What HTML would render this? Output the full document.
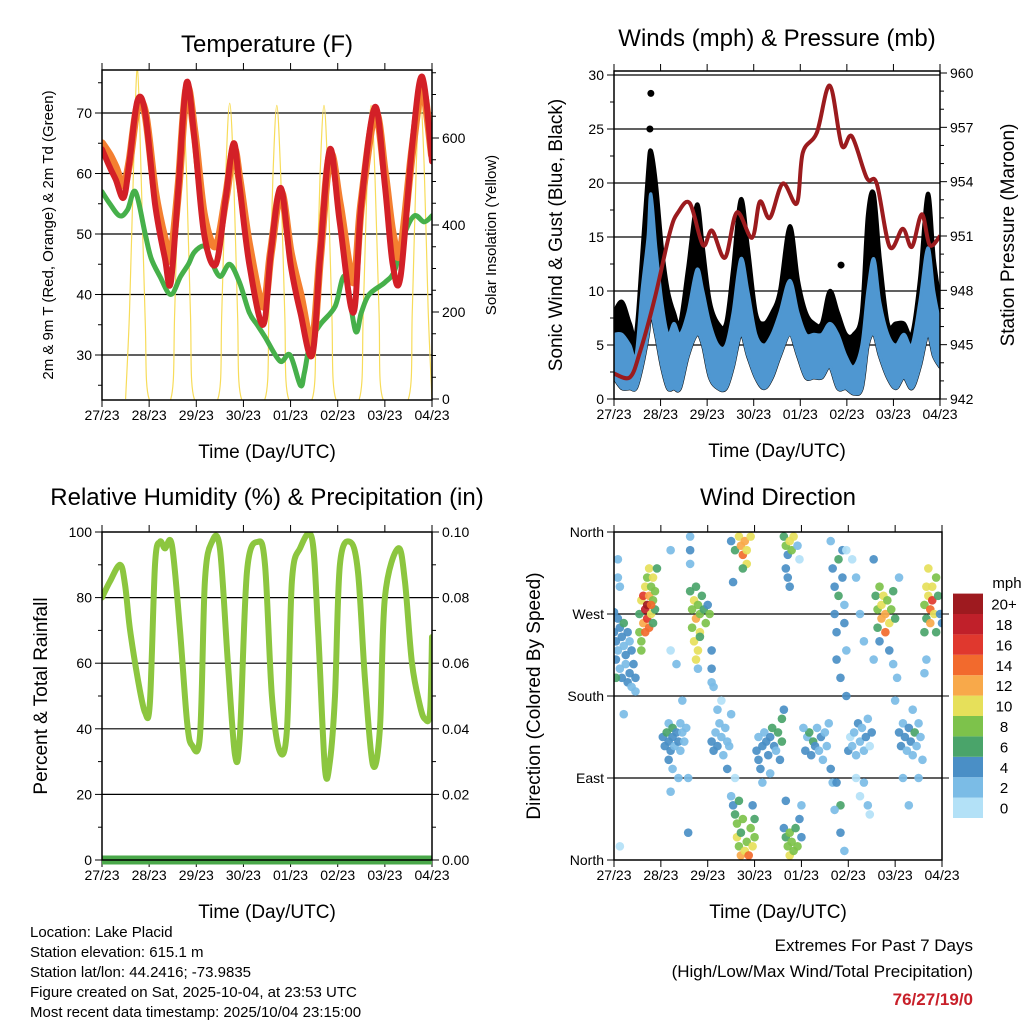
<!DOCTYPE html>
<html><head><meta charset="utf-8"><style>
html,body{margin:0;padding:0;background:#fff;}
svg{display:block;font-family:"Liberation Sans",Arial,sans-serif;}
</style></head><body>
<svg id="fig" width="1024" height="1024" viewBox="0 0 1024 1024" xmlns="http://www.w3.org/2000/svg"></svg>
<script>
// ---------- Data ----------
const dayLabels = ["27/23","28/23","29/23","30/23","01/23","02/23","03/23","04/23"];
const redT = [0,4,7,11,14,18,22,27,32,35,39,43,47,52,58,63,67,70,75,82,86,91,96,101,107,111,116,121,128,132,139,144,148,152,158,163,168];
const redV = [64,61,59,56,62,72,70,55,46,42,58,75,66,50,45,56,65,58,45,35,47,57.6,45,37,30,46,64,52,37,55,71,58,45,43,65,76,62];
const orangeV = [65,63,61,58,62,71,70,57,49,46,58,74,67,53,48,56,64,59,48,38,47,57,47,40,32,46,63,55,42,55,70,60,50,47,64,74,63];
const dewT = [0,4,9,13,17,22,25,29.5,35,40,44,47,52,55,60,65,70,75,79,83,90.6,95.7,101,103,106,111,118.6,123.7,129,132,136,144,149,154,159,164,168];
const dewV = [57,55,53,54,57,50,46,43,40,43,45,47,48,46,43,45,42,37,35,33,29,30,25,27,32,35,38,43,34,37,40,42,44,50,53,52,53];
const solarT = [12,14,16,18,20,22,24, 35,37,39,41,43,45,47, 59,61,63,65,67,69,71, 83,85,87,89,91,93,95, 107,109,111,113,115,117,119, 131,133,135,137,139,141,143, 156,158,160,162,164,166,168];
const solarV = [0,200,520,760,500,180,0, 0,200,520,680,520,200,0, 0,200,520,680,520,200,0, 0,200,510,675,510,200,0, 0,200,510,675,510,200,0, 0,200,510,675,510,200,0, 0,210,540,690,540,210,0];

const windT = [0,4.1,8.2,11.3,14.4,17.5,19,21.6,24.7,27.8,30.9,34,38.1,42.7,45.8,49.4,53.6,57.7,61.3,65.4,69,73.1,77.3,81.4,85.5,90.6,94.8,98.9,103,107.1,111.2,115.4,119.5,123.6,127.7,130.8,133.9,137,141.1,145.2,149.4,153.5,157.6,161.7,164.8,168];
const windLo = [2,1,1,1,3,6,8,6,3,1,1,1,4,6,5,2,1,1,3,6,4,2,1,2,4,6,4,2,2,2,3,1,1,0.5,1,5,6,4,2,1,2,1,3,6,4,3];
const windHi = [6,6,5,4,10,15,19,14,9,6,7,6,8,12,10,7,5,5,8,13,10,6,5,6,8,11,8,6,6,6,7,6,4,3,5,10,13,9,6,5,6,5,9,14,10,7];
const gustHi = [8,9,7,6,13,21,23,20,14,10,8,7,12,18,14,9,7,7,12,18.5,14,8,7,8,10,16,11,8,7,7,10,8,6,6,8,17,19,13,7,7,7,6,11,19,13,9];
const gustOutT = [19,18.5,117];
const gustOutV = [28.3,25,12.4];
const presT = [0,8.2,13.4,21.1,28.8,33,39.1,45.8,50.5,57.2,63.3,71.1,75.2,80.3,87,94.2,97.3,104.5,111.2,117.4,122.6,130.3,135.4,142.1,148.8,153.5,158.6,162.7,168];
const presV = [943.4,943.2,944.6,947.6,951.2,952.3,952.8,950.5,951.3,949.8,952.3,950.9,952.9,952,953.9,952.8,955.6,956.7,959.3,956,956.5,954.2,953.9,950.4,951.4,950.4,952.2,950.5,951];

const rhT = [0,4.1,9.2,11.7,14.3,18.3,21.9,24.4,27,29.5,32,35.6,39.7,43.3,45.8,49.9,52.4,56,60,64.1,67.7,70.2,73.8,79.4,83,86.5,90.6,94.2,96.7,100.8,106.9,110,113.5,116,118.6,121.1,126.2,130.3,133.9,137.9,141.5,144,150.7,154.2,157.8,161.9,164.4,167,168];
const rhV = [80,85,90,84,70,55,45,48,90,97,95,96,70,42,35,38,85,97,95,60,32,38,88,97,90,50,33,40,85,95,98,70,28,30,50,90,97,88,55,29,40,80,95,85,60,47,43,45,68];
const rainT = [0,168];
const rainV = [0,0];

const dirPts = [
[0,250,4],[1,240,4],[1,220,5],[2,265,4],[2,230,2],[3,255,4],[3,210,2],[4,245,4],[4,200,4],[5,235,2],[5,260,6],[6,225,4],[6,215,2],[7,250,4],[7,195,4],[8,240,2],[8,205,4],[9,230,4],[9,190,2],[10,215,4],[11,200,4],[11,185,2],[2,330,2],[2,310,2],[3,300,2],[0,272,4],[1,200,6],[5,160,2],[3,15,0],
[13,250,8],[13,270,6],[14,240,8],[14,285,10],[15,260,12],[15,290,16],[16,275,18],[16,300,10],[17,265,16],[17,280,20],[17,310,8],[18,255,14],[18,290,12],[18,320,10],[19,270,10],[19,300,8],[20,285,8],[20,260,6],[21,295,8],[21,275,6],[22,320,6],[14,230,8],[16,250,14],[19,280,14],[20,310,10],
[39,295,6],[40,275,8],[40,255,8],[41,285,10],[41,240,10],[42,265,12],[42,300,6],[43,280,8],[43,230,10],[44,270,8],[44,250,10],[45,290,6],[46,275,6],[47,260,8],[48,280,4],[49,270,8],[42,220,10],[44,245,6],
[29,340,2],[29,230,0],[32,215,2],[35,175,2],[39,325,2],[39,340,4],[39,355,2],[43,210,2],[50,230,4],[50,210,4],[51,190,2],[50,195,2],
[25,135,4],[26,125,4],[27,140,6],[28,130,4],[28,150,2],[29,120,4],[30,135,4],[30,145,6],[31,125,2],[32,140,4],[33,130,4],[34,150,2],[34,120,2],[35,140,2],[36,130,2],[37,145,2],[28,110,4],[30,100,2],[29,75,2],[33,90,2],[38,90,2],[38,30,4],
[50,130,4],[51,120,4],[52,140,2],[53,125,4],[54,150,2],[55,135,2],[56,115,2],[57,145,2],[58,130,2],[59,125,2],[60,160,2],[53,165,2],[55,175,0],[58,100,4],[62,90,0],
[60,350,4],[62,340,6],[64,355,10],[65,345,12],[66,335,14],[67,350,12],[68,340,10],[68,325,10],[70,355,10],[66,320,6],[61,305,4],
[60,70,2],[61,60,4],[62,50,6],[63,40,8],[63,25,10],[64,15,8],[65,5,12],[65,30,6],[66,45,8],[67,10,10],[68,20,8],[69,5,14],[70,35,8],[71,15,10],[72,45,6],[72,25,8],[71,60,4],[64,65,6],
[73,120,4],[74,110,4],[74,135,2],[75,100,4],[76,125,4],[77,140,2],[78,130,4],[79,115,4],[80,135,4],[81,145,6],[82,125,4],[83,120,2],[84,140,6],[85,110,4],[86,130,6],[86,155,6],[87,165,4],[76,85,2],[80,95,2],
[87,355,6],[88,345,8],[89,335,4],[90,350,10],[91,340,8],[92,355,10],[88,320,4],[90,300,4],[89,310,4],[94,345,2],[95,330,0],
[87,35,4],[88,25,6],[89,15,8],[90,5,10],[90,30,8],[91,20,8],[92,10,8],[93,35,6],[94,15,8],[95,45,4],[96,60,2],[96,25,4],[88,65,4],
[98,120,4],[99,135,2],[100,140,6],[101,115,4],[102,130,6],[103,125,4],[104,145,2],[105,120,2],[106,135,4],[107,110,2],[108,140,2],[109,125,2],[110,150,2],[97,145,2],[111,100,4],[112,85,2],
[111,350,2],[112,320,4],[113,300,4],[113,270,4],[114,250,4],[114,220,4],[115,330,6],[115,290,6],[116,200,4],[116,60,6],[117,340,4],[117,310,4],[118,280,2],[118,260,4],[119,230,2],[119,180,4],[120,120,4],[114,85,4],[116,30,4],[118,10,2],[113,55,2],[119,340,0],
[121,135,0],[122,125,2],[123,140,2],[124,115,2],[125,150,4],[126,130,2],[127,145,2],[128,120,2],[129,135,4],[130,155,2],[131,125,0],[132,140,4],[124,90,0],[126,70,0],[128,85,2],[122,330,0],[124,310,2],[126,270,2],[128,240,2],[130,60,2],[131,50,0],[133,330,4],[133,220,2],
[134,290,6],[135,275,8],[135,255,6],[136,300,8],[137,280,10],[137,265,12],[138,290,10],[139,270,12],[139,250,14],[140,285,8],[141,260,10],[142,275,8],[143,295,6],[144,265,6],[136,240,4],[141,230,4],[143,215,2],[145,200,2],[144,175,2],[146,310,2],
[146,140,4],[147,125,4],[148,150,2],[149,135,4],[150,120,2],[151,145,4],[152,130,4],[153,115,2],[154,140,6],[155,125,2],[156,150,2],[157,135,2],[158,110,2],[148,90,2],[151,60,2],[153,165,2],[156,90,2],
[159,250,6],[159,280,8],[160,300,10],[160,265,6],[161,290,10],[161,320,10],[162,275,14],[162,260,12],[163,300,10],[163,285,16],[164,270,10],[165,310,8],[165,250,6],[166,290,6],[167,270,4],[168,260,4],[160,220,2],[159,205,2]
];
const speedLabels = ["0","2","4","6","8","10","12","14","16","18","20+"];
const speedColors = ["#b3e1f7","#7bbce6","#4a8fc6","#4aa46a","#7dc24b","#e6e05a","#f8a94a","#f26a2d","#e0382e","#c0202a","#9e1a1f"];

// ---------- Helpers ----------
const NS = "http://www.w3.org/2000/svg";
const svg = document.getElementById("fig");
function mk(tag, attrs, parent, name) {
  const e = document.createElementNS(NS, tag);
  for (const k in attrs) e.setAttribute(k, attrs[k]);
  
  
  (parent || svg).appendChild(e);
  return e;
}
function txt(s, x, y, size, anchor, name, extra) {
  const t = mk("text", Object.assign({x:x, y:y, "font-size":size, "text-anchor":anchor || "middle", fill:"#000"}, extra || {}), svg, name);
  t.textContent = s;
  return t;
}
function pathFrom(xs, ys) {
  let d = "";
  for (let i = 0; i < xs.length; i++) d += (i ? "L" : "M") + xs[i].toFixed(1) + "," + ys[i].toFixed(1);
  return d;
}
function smoothFrom(xs, ys, cont) {
  let d = (cont ? "L" : "M") + xs[0].toFixed(1) + "," + ys[0].toFixed(1);
  for (let i = 0; i < xs.length - 1; i++) {
    const x0 = xs[Math.max(0, i - 1)], y0 = ys[Math.max(0, i - 1)];
    const x1 = xs[i], y1 = ys[i], x2 = xs[i + 1], y2 = ys[i + 1];
    const x3 = xs[Math.min(xs.length - 1, i + 2)], y3 = ys[Math.min(xs.length - 1, i + 2)];
    const c1x = x1 + (x2 - x0) / 6, c1y = y1 + (y2 - y0) / 6;
    const c2x = x2 - (x3 - x1) / 6, c2y = y2 - (y3 - y1) / 6;
    d += "C" + c1x.toFixed(1) + "," + c1y.toFixed(1) + " " + c2x.toFixed(1) + "," + c2y.toFixed(1) + " " + x2.toFixed(1) + "," + y2.toFixed(1);
  }
  return d;
}
function xScale(x0, x1) { return t => x0 + (t / 168) * (x1 - x0); }
function lin(v0, y0, v1, y1) { return v => y0 + (v - v0) * (y1 - y0) / (v1 - v0); }

function panel(o) {
  o.grid.forEach(v => mk("line", {x1:o.x0, x2:o.x1, y1:o.yL(v), y2:o.yL(v), stroke:"#000", "stroke-width":1.2}, svg, o.id + "-gridline"));
  o.lTicks.forEach((v, i) => {
    const y = o.yL(v);
    mk("line", {x1:o.x0 - 7, x2:o.x0, y1:y, y2:y, stroke:"#000", "stroke-width":1}, svg, o.id + "-left-tick");
    txt(o.lLabels[i], o.x0 - 10, y + 5, 14, "end", o.id + "-left-tick-label");
  });
  (o.lMinor || []).forEach(v => { const y = o.yL(v); mk("line", {x1:o.x0 - 4, x2:o.x0, y1:y, y2:y, stroke:"#000", "stroke-width":1}, svg, o.id + "-left-minor-tick"); });
  if (o.rTicks) {
    o.rTicks.forEach((v, i) => {
      const y = o.yR(v);
      mk("line", {x1:o.x1, x2:o.x1 + 7, y1:y, y2:y, stroke:"#000", "stroke-width":1}, svg, o.id + "-right-tick");
      txt(o.rLabels[i], o.x1 + 10, y + 5, 14, "start", o.id + "-right-tick-label");
    });
    (o.rMinor || []).forEach(v => { const y = o.yR(v); mk("line", {x1:o.x1, x2:o.x1 + 4, y1:y, y2:y, stroke:"#000", "stroke-width":1}, svg, o.id + "-right-minor-tick"); });
  }
  const xs = xScale(o.x0, o.x1);
  dayLabels.forEach((s, i) => {
    const x = xs(i * 24);
    mk("line", {x1:x, x2:x, y1:o.y1, y2:o.y1 + 7, stroke:"#000", "stroke-width":1}, svg, o.id + "-x-tick");
    mk("line", {x1:x, x2:x, y1:o.y0 - 7, y2:o.y0, stroke:"#000", "stroke-width":1}, svg, o.id + "-top-tick");
    txt(s, x, o.y1 + 20, 14, "middle", o.id + "-x-tick-label");
  });
  txt("Time (Day/UTC)", (o.x0 + o.x1) / 2, o.y1 + 58, 19, "middle", o.id + "-x-axis-title");
  txt(o.title, (o.x0 + o.x1) / 2, o.titleY, 24, "middle", o.id + "-title");
  const ly = (o.y0 + o.y1) / 2;
  txt(o.lTitle, o.lTitleX, ly, o.lTitleSize, "middle", o.id + "-y-axis-title", {transform:"rotate(-90 " + o.lTitleX + " " + ly + ")"});
  if (o.rTitle) txt(o.rTitle, o.rTitleX, ly, o.rTitleSize, "middle", o.id + "-right-axis-title", {transform:"rotate(-90 " + o.rTitleX + " " + ly + ")"});
  const cp = mk("clipPath", {id:o.id + "-clip"}, svg, o.id + "-clip");
  mk("rect", {x:o.x0, y:o.y0, width:o.x1 - o.x0, height:o.y1 - o.y0}, cp, o.id + "-clip-rect");
  const g = mk("g", {"clip-path":"url(#" + o.id + "-clip)"}, svg, o.id + "-plot-area");
  return {g:g, xs:xs};
}
function frame(o) {
  mk("rect", {x:o.x0, y:o.y0, width:o.x1 - o.x0, height:o.y1 - o.y0, fill:"none", stroke:"#000", "stroke-width":1.5}, svg, o.id + "-frame");
}

// ---------- Panel 1: Temperature ----------
const P1 = {id:"temp", x0:102, x1:432, y0:70, y1:400, title:"Temperature (F)", titleY:52,
  yL:lin(30,355,70,113), yR:lin(0,399,600,138),
  grid:[30,40,50,60,70], lTicks:[30,40,50,60,70], lLabels:["30","40","50","60","70"], lMinor:[25,35,45,55,65,75],
  rTicks:[0,200,400,600], rLabels:["0","200","400","600"], rMinor:[50,100,150,250,300,350,450,500,550,650,700,750],
  lTitle:"2m & 9m T (Red, Orange) & 2m Td (Green)", lTitleX:53, lTitleSize:15,
  rTitle:"Solar Insolation (Yellow)", rTitleX:496, rTitleSize:15};
{
  const r = panel(P1);
  mk("path", {d:smoothFrom(solarT.map(r.xs), solarV.map(P1.yR)), fill:"none", stroke:"#f7dc5a", "stroke-width":1.2, "stroke-linejoin":"round"}, r.g, "solar-insolation-line");
  mk("path", {d:smoothFrom(dewT.map(r.xs), dewV.map(P1.yL)), fill:"none", stroke:"#46b04a", "stroke-width":5, "stroke-linejoin":"round", "stroke-linecap":"round"}, r.g, "dewpoint-2m-line");
  mk("path", {d:smoothFrom(redT.map(r.xs), orangeV.map(P1.yL)), fill:"none", stroke:"#f47f30", "stroke-width":8, "stroke-linejoin":"round", "stroke-linecap":"round"}, r.g, "temp-9m-line");
  mk("path", {d:smoothFrom(redT.map(r.xs), redV.map(P1.yL)), fill:"none", stroke:"#d32027", "stroke-width":6, "stroke-linejoin":"round", "stroke-linecap":"round"}, r.g, "temp-2m-line");
  frame(P1);
}

// ---------- Panel 2: Winds & Pressure ----------
const P2 = {id:"wind", x0:614, x1:940, y0:71, y1:399, title:"Winds (mph) & Pressure (mb)", titleY:46,
  yL:lin(0,399,30,75), yR:lin(942,399,960,73),
  grid:[5,10,15,20,25,30], lTicks:[0,5,10,15,20,25,30], lLabels:["0","5","10","15","20","25","30"], lMinor:[2.5,7.5,12.5,17.5,22.5,27.5],
  rTicks:[942,945,948,951,954,957,960], rLabels:["942","945","948","951","954","957","960"],
  rMinor:[943,944,946,947,949,950,952,953,955,956,958,959],
  lTitle:"Sonic Wind & Gust (Blue, Black)", lTitleX:562, lTitleSize:19,
  rTitle:"Station Pressure (Maroon)", rTitleX:1014, rTitleSize:19};
{
  const r = panel(P2);
  const xs = windT.map(r.xs);
  const gTop = gustHi.map(P2.yL), bTop = windHi.map(P2.yL), bBot = windLo.map(P2.yL);
  const gd = smoothFrom(xs, gTop) + smoothFrom(xs.slice().reverse(), bBot.slice().reverse(), true) + "Z";
  mk("path", {d:gd, fill:"#000", stroke:"#000", "stroke-width":4, "stroke-linejoin":"round"}, r.g, "gust-points");
  const bd = smoothFrom(xs, bTop) + smoothFrom(xs.slice().reverse(), bBot.slice().reverse(), true) + "Z";
  mk("path", {d:bd, fill:"#4f97d1", stroke:"#4f97d1", "stroke-width":3, "stroke-linejoin":"round"}, r.g, "sonic-wind-band");
  gustOutT.forEach((t, i) => {
    mk("circle", {cx:r.xs(t), cy:P2.yL(gustOutV[i]), r:3.5, fill:"#000"}, r.g, "gust-outlier-point");
  });
  mk("path", {d:smoothFrom(presT.map(r.xs), presV.map(P2.yR)), fill:"none", stroke:"#9b1b1e", "stroke-width":4, "stroke-linejoin":"round"}, r.g, "pressure-line");
  frame(P2);
}

// ---------- Panel 3: RH & Precip ----------
const P3 = {id:"rh", x0:102, x1:432, y0:532, y1:860, title:"Relative Humidity (%) & Precipitation (in)", titleY:505,
  yL:lin(0,860,100,532), yR:lin(0,860,0.1,532),
  grid:[20,40,60,80], lTicks:[0,20,40,60,80,100], lLabels:["0","20","40","60","80","100"], lMinor:[10,30,50,70,90],
  rTicks:[0,0.02,0.04,0.06,0.08,0.1], rLabels:["0.00","0.02","0.04","0.06","0.08","0.10"], rMinor:[0.01,0.03,0.05,0.07,0.09],
  lTitle:"Percent & Total Rainfall", lTitleX:47, lTitleSize:19};
{
  const r = panel(P3);
  mk("path", {d:smoothFrom(rhT.map(r.xs), rhV.map(P3.yL)), fill:"none", stroke:"#8cc63f", "stroke-width":6, "stroke-linejoin":"round", "stroke-linecap":"round"}, r.g, "relative-humidity-line");
  mk("path", {d:pathFrom(rainT.map(r.xs), rainV.map(P3.yR)), fill:"none", stroke:"#4aa84a", "stroke-width":9}, svg, "total-precip-line");
  frame(P3);
}

// ---------- Panel 4: Wind Direction ----------
const P4 = {id:"dir", x0:614, x1:942, y0:532, y1:860, title:"Wind Direction", titleY:505,
  yL:lin(0,860,360,532),
  grid:[90,180,270], lTicks:[0,90,180,270,360], lLabels:["North","East","South","West","North"],
  lTitle:"Direction (Colored By Speed)", lTitleX:540, lTitleSize:19};
{
  const r = panel(P4);
  [90,180,270].forEach(v => mk("line", {x1:P4.x1, x2:P4.x1 + 7, y1:P4.yL(v), y2:P4.yL(v), stroke:"#000"}, svg, "dir-right-tick"));
  dirPts.forEach(p => {
    const idx = Math.min(10, Math.floor(p[2] / 2));
    mk("circle", {cx:r.xs(p[0]), cy:P4.yL(p[1]), r:4.3, fill:speedColors[idx], "fill-opacity":0.92}, r.g, "direction-point");
  });
  frame(P4);
  txt("mph", 1007, 588, 15, "middle", "speed-legend-title");
  speedLabels.forEach((s, i) => {
    const y = 818 - (i + 1) * 20.4;
    mk("rect", {x:953, y:y, width:30, height:20.4, fill:speedColors[i]}, svg, "speed-legend-swatch");
    txt(s, 1004, y + 16, 15, "middle", "speed-legend-label");
  });
}

// ---------- Footer text ----------
const info = ["Location: Lake Placid","Station elevation: 615.1 m","Station lat/lon: 44.2416; -73.9835","Figure created on Sat, 2025-10-04, at 23:53 UTC","Most recent data timestamp: 2025/10/04 23:15:00"];
info.forEach((s, i) => txt(s, 30, 937 + i * 20, 15, "start", "station-info-line"));
txt("Extremes For Past 7 Days", 973, 951, 17, "end", "extremes-heading");
txt("(High/Low/Max Wind/Total Precipitation)", 973, 977, 17, "end", "extremes-subheading");
txt("76/27/19/0", 973, 1005, 17, "end", "extremes-values", {fill:"#c8202a", "font-weight":"bold"});
</script>
</body></html>
